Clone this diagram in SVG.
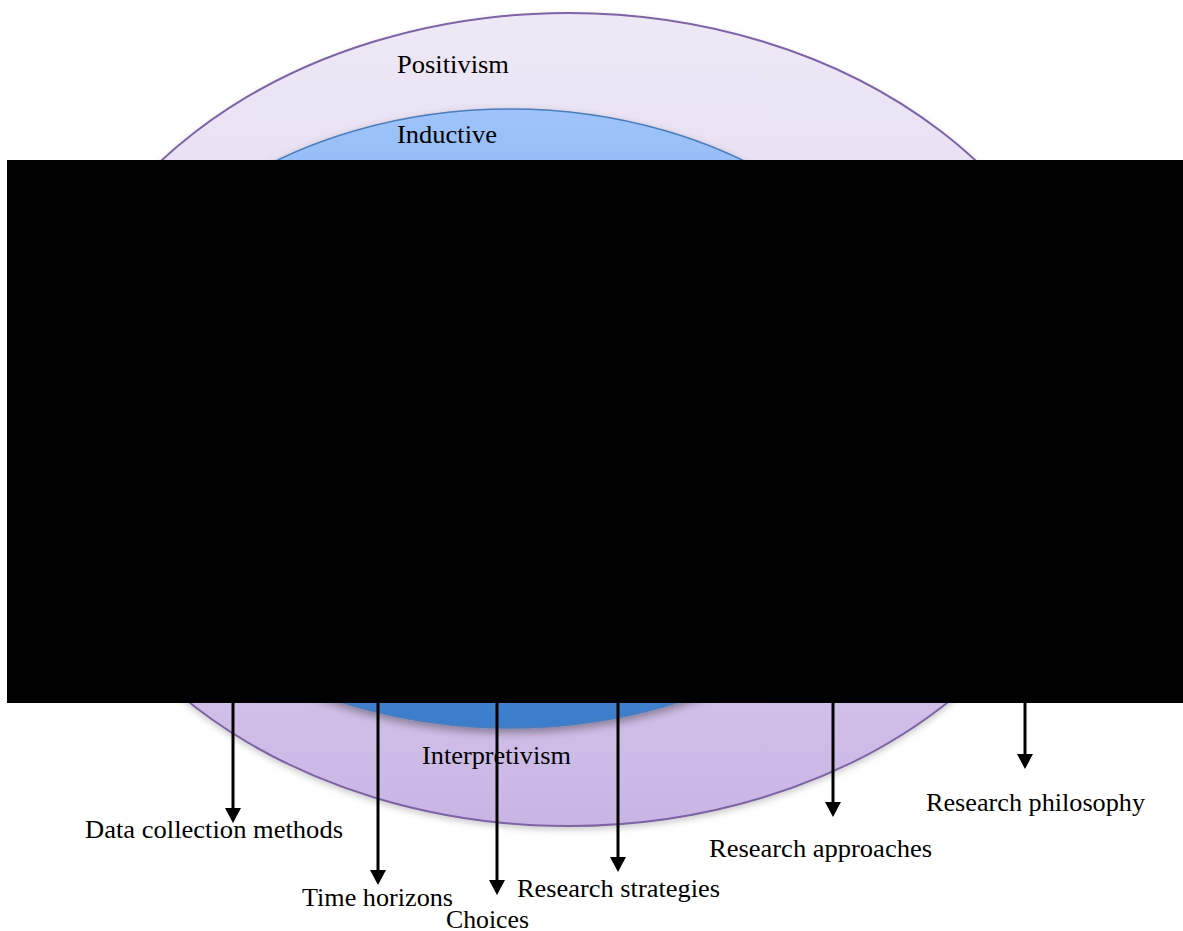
<svg xmlns="http://www.w3.org/2000/svg" width="1183" height="931" viewBox="0 0 1183 931">
  <defs>
    <linearGradient id="gradOuter" x1="0" y1="0" x2="0" y2="1">
      <stop offset="0" stop-color="#eee8f6"/>
      <stop offset="0.5" stop-color="#e2d7f0"/>
      <stop offset="1" stop-color="#c9b5e5"/>
    </linearGradient>
    <linearGradient id="gradInner" x1="0" y1="0" x2="0" y2="1">
      <stop offset="0" stop-color="#9fc4fb"/>
      <stop offset="0.5" stop-color="#6da0e6"/>
      <stop offset="1" stop-color="#3b7dcb"/>
    </linearGradient>
    <filter id="shadow" x="-10%" y="-10%" width="120%" height="125%">
      <feDropShadow dx="0" dy="4" stdDeviation="4" flood-color="#000" flood-opacity="0.35"/>
    </filter>
    <filter id="shadowSoft" x="-10%" y="-10%" width="120%" height="125%">
      <feDropShadow dx="0" dy="3" stdDeviation="3" flood-color="#000" flood-opacity="0.2"/>
    </filter>
    <marker id="arrow" markerUnits="userSpaceOnUse" markerWidth="16" markerHeight="16"
            viewBox="0 0 15 16" refX="3" refY="8" orient="auto">
      <path d="M0,0 L15,8 L0,16 z" fill="#000"/>
    </marker>
    <style>
      .label { font-family: "Liberation Serif", "Times New Roman", serif; font-size: 25px; fill: #000; }
      .conn { stroke: #000; stroke-width: 3; fill: none; marker-end: url(#arrow); }
    </style>
  </defs>

  <rect width="1183" height="931" fill="#fff"/>

  <!-- outer layer -->
  <g id="philosophy-layer">
    <ellipse cx="568.5" cy="419.5" rx="528" ry="406.5" fill="url(#gradOuter)" stroke="#7e63a5" stroke-width="2" filter="url(#shadowSoft)"/>
    <text class="label" x="397" y="73" textLength="112" lengthAdjust="spacingAndGlyphs">Positivism</text>
    <text class="label" x="422" y="764" textLength="149" lengthAdjust="spacingAndGlyphs">Interpretivism</text>
  </g>

  <!-- approaches layer -->
  <g id="approach-layer">
    <ellipse cx="510" cy="418.5" rx="422" ry="309.5" fill="url(#gradInner)" stroke="#4a7ebb" stroke-width="1.5" filter="url(#shadow)"/>
    <text class="label" x="397" y="143" textLength="100" lengthAdjust="spacingAndGlyphs">Inductive</text>
  </g>

  <!-- connectors from the rings down to their labels -->
  <g id="connectors">
    <line class="conn" x1="233" y1="690" x2="233" y2="811"/>
    <line class="conn" x1="378" y1="690" x2="378" y2="873"/>
    <line class="conn" x1="497" y1="690" x2="497" y2="883"/>
    <line class="conn" x1="618" y1="690" x2="618" y2="860"/>
    <line class="conn" x1="833" y1="690" x2="833" y2="805"/>
    <line class="conn" x1="1025" y1="690" x2="1025" y2="757"/>
  </g>

  <!-- redaction block -->
  <rect id="redaction" x="7" y="160" width="1176" height="543" fill="#000"/>

  <g id="label-data-collection">
    <text class="label" x="85" y="838" textLength="258" lengthAdjust="spacingAndGlyphs">Data collection methods</text>
  </g>
  <g id="label-time-horizons">
    <text class="label" x="302" y="906" textLength="151" lengthAdjust="spacingAndGlyphs">Time horizons</text>
  </g>
  <g id="label-choices">
    <text class="label" x="446" y="928" textLength="83" lengthAdjust="spacingAndGlyphs">Choices</text>
  </g>
  <g id="label-strategies">
    <text class="label" x="517" y="897" textLength="203" lengthAdjust="spacingAndGlyphs">Research strategies</text>
  </g>
  <g id="label-approaches">
    <text class="label" x="709" y="857" textLength="223" lengthAdjust="spacingAndGlyphs">Research approaches</text>
  </g>
  <g id="label-philosophy">
    <text class="label" x="926" y="811" textLength="219" lengthAdjust="spacingAndGlyphs">Research philosophy</text>
  </g>
</svg>
